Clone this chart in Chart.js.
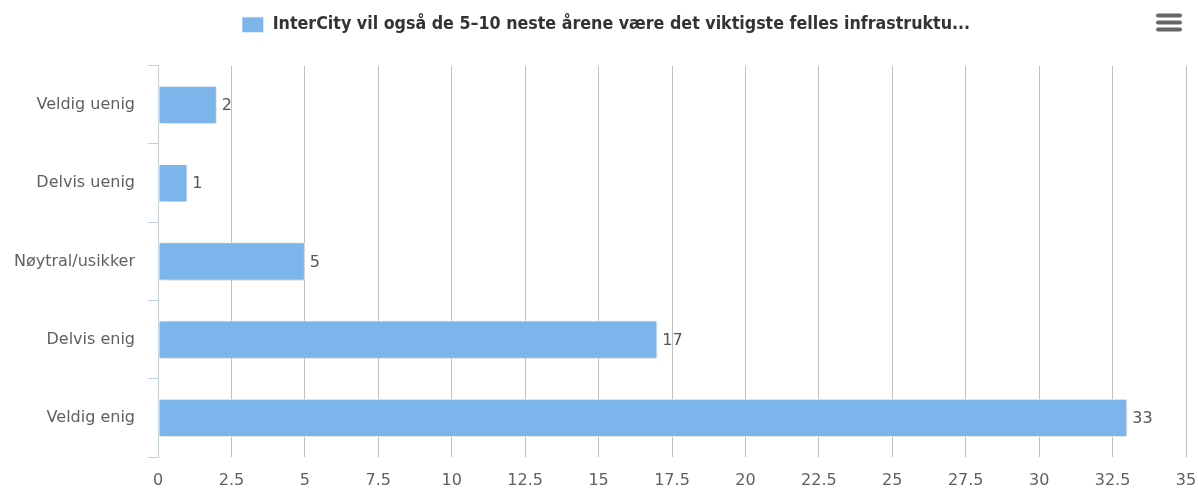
<!DOCTYPE html>
<html>
<head>
<meta charset="utf-8">
<script src="https://cdn.jsdelivr.net/npm/chart.js@4"></script>
<style>
  html, body { margin: 0; padding: 0; background: #fff; }
  #wrap { width: 1198px; height: 490px; position: relative; }
</style>
</head>
<body>
<div id="wrap"><canvas id="myChart"></canvas></div>
<script>
const categories = ['Veldig uenig', 'Delvis uenig', 'Nøytral/usikker', 'Delvis enig', 'Veldig enig']
const answers = [2, 1, 5, 17, 33]
const seriesName = 'InterCity vil også de 5–10 neste årene være det viktigste felles infrastruktu...'

const barColor = '#7cb5ec'
const gridColor = '#c0c0c0'
const axisColor = '#c0d0e0'
const labelColor = '#606060'
const fontFamily = '"DejaVu Sans", sans-serif'

// bar shadows like the original
const barShadow = {
  id: 'barShadow',
  beforeDatasetsDraw(chart) {
    const c = chart.ctx
    c.save()
    c.shadowColor = 'rgba(0,0,0,0.22)'
    c.shadowOffsetX = 1
    c.shadowOffsetY = 1
    c.shadowBlur = 3
  },
  afterDatasetsDraw(chart) {
    chart.ctx.restore()
  }
}

// value labels at the end of each bar
const valueLabels = {
  id: 'valueLabels',
  afterDatasetsDraw(chart) {
    const c = chart.ctx
    const meta = chart.getDatasetMeta(0)
    c.save()
    c.font = '16px ' + fontFamily
    c.fillStyle = '#555555'
    c.textAlign = 'left'
    c.textBaseline = 'middle'
    meta.data.forEach(function(bar, i) {
      c.fillText(String(answers[i]), bar.x + 5, bar.y + 1)
    })
    c.restore()
  }
}

// legend sits a little right of centre in the original
const legendNudge = {
  id: 'legendNudge',
  afterLayout(chart) {
    chart.legend.left += 7
    chart.legend.right += 7
  }
}

// export menu icon, top right
const menuIcon = {
  id: 'menuIcon',
  afterDraw(chart) {
    const c = chart.ctx
    c.save()
    c.strokeStyle = '#666666'
    c.lineWidth = 4
    c.lineCap = 'round'
    for (var i = 0; i < 3; i++) {
      var y = 15.5 + i * 7
      c.beginPath()
      c.moveTo(1158, y)
      c.lineTo(1180, y)
      c.stroke()
    }
    c.restore()
  }
}

var ctx = document.getElementById('myChart')
new Chart(ctx, {
  type: 'bar',
  data: {
    labels: categories,
    datasets: [{
      label: seriesName,
      data: answers,
      backgroundColor: barColor,
      borderColor: '#ffffff',
      borderWidth: 1,
      borderSkipped: false,
      categoryPercentage: 1,
      barPercentage: 0.49
    }]
  },
  options: {
    indexAxis: 'y',
    responsive: true,
    maintainAspectRatio: false,
    animation: false,
    layout: { padding: { top: 6, right: 0, left: 0, bottom: 0 } },
    plugins: {
      legend: {
        display: true,
        position: 'top',
        labels: {
          boxWidth: 22,
          boxHeight: 16,
          color: '#333333',
          padding: 10,
          font: { family: '"DejaVu Sans Condensed", "DejaVu Sans", sans-serif', size: 17.7, weight: 'bold' }
        }
      },
      tooltip: { enabled: false }
    },
    scales: {
      x: {
        min: 0,
        max: 35,
        afterFit(scale) {
          scale.height = 33
          scale.paddingLeft = 0
          scale.paddingRight = 12
        },
        ticks: {
          stepSize: 2.5,
          color: labelColor,
          padding: 14,
          font: { family: fontFamily, size: 16 }
        },
        grid: {
          color: gridColor,
          drawTicks: false
        },
        border: { display: false }
      },
      // empty spacer between the legend and the plot
      top: {
        type: 'linear',
        axis: 'x',
        position: 'top',
        afterFit(scale) {
          scale.height = 22
          scale.paddingLeft = 0
          scale.paddingRight = 0
        },
        ticks: { display: false },
        grid: { display: false },
        border: { display: false }
      },
      y: {
        afterFit(scale) { scale.width = 158 },
        ticks: {
          color: labelColor,
          padding: 13,
          font: { family: fontFamily, size: 16 }
        },
        grid: {
          offset: true,
          drawOnChartArea: false,
          drawTicks: true,
          tickLength: 10,
          color: axisColor
        },
        border: { display: true, color: axisColor }
      }
    }
  },
  plugins: [barShadow, valueLabels, legendNudge, menuIcon]
})
</script>
</body>
</html>
